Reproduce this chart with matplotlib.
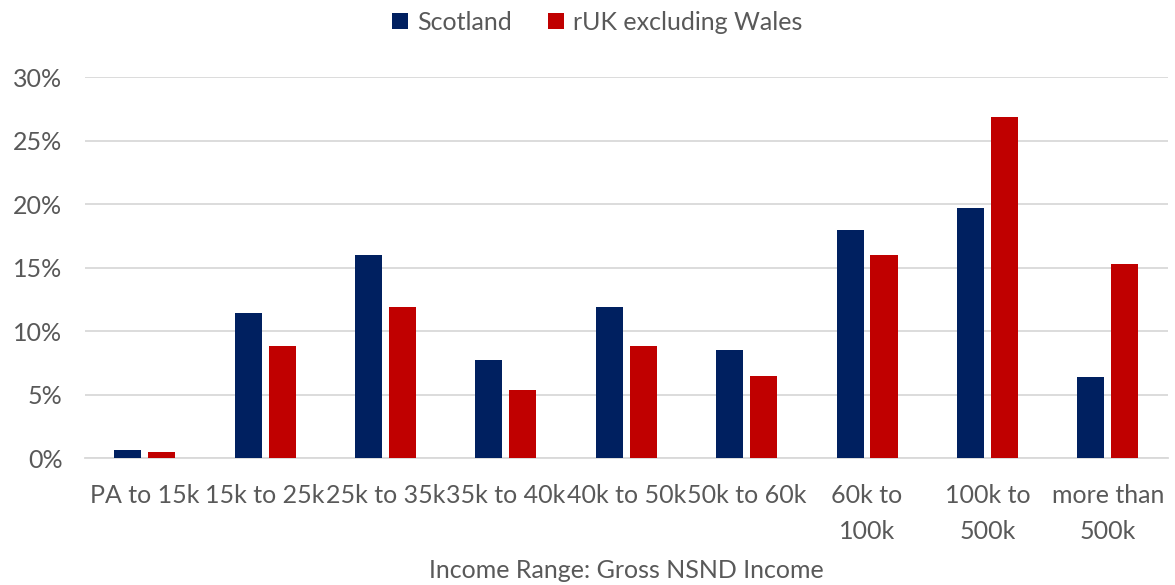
import numpy as np
import matplotlib
matplotlib.use("Agg")
import matplotlib.pyplot as plt
from matplotlib.ticker import PercentFormatter

categories = ["PA to 15k", "15k to 25k", "25k to 35k", "35k to 40k", "40k to 50k",
              "50k to 60k", "60k to\n100k", "100k to\n500k", "more than\n500k"]
scotland = [0.6, 11.4, 16.0, 7.7, 11.9, 8.55, 18.0, 19.7, 6.4]
ruk_ex_wales = [0.5, 8.8, 11.9, 5.4, 8.85, 6.5, 16.0, 26.9, 15.25]
yticks = [0, 5, 10, 15, 20, 25, 30]

NAVY = "#002060"
RED = "#C00000"
TEXT = "#595959"
GRID = "#D9D9D9"
FS = 18

plt.rcParams["font.family"] = ["Lato", "DejaVu Sans"]

fig = plt.figure(figsize=(11.75, 5.85), dpi=100)
ax = fig.add_axes([0.072, 0.217, 0.922, 0.651])

x = np.arange(len(categories))
w = 0.225
off = 0.141
ax.bar(x - off, scotland, w, color=NAVY, label="Scotland", zorder=3)
ax.bar(x + off, ruk_ex_wales, w, color=RED, label="rUK excluding Wales", zorder=3)

ax.set_xlim(-0.5, len(categories) - 0.5)
ax.set_ylim(0, 30)
ax.set_yticks(yticks)
ax.yaxis.set_major_formatter(PercentFormatter(decimals=0))
ax.set_xticks(x)
ax.set_xticklabels(categories)
ax.grid(axis="y", color=GRID, lw=1.3, zorder=0)
for s in ["top", "right", "left"]:
    ax.spines[s].set_visible(False)
ax.spines["bottom"].set_color(GRID)
ax.spines["bottom"].set_linewidth(1.3)
ax.tick_params(axis="both", length=0, labelsize=FS, colors=TEXT)
ax.tick_params(axis="x", pad=19)
ax.tick_params(axis="y", pad=16)
for lbl in ax.get_xticklabels():
    lbl.set_verticalalignment("top")
    lbl.set_linespacing(1.65)

ax.set_xlabel("Income Range: Gross NSND Income", fontsize=FS, color=TEXT, labelpad=12)

ax.legend(loc="upper center", bbox_to_anchor=(0.508, 1.02), bbox_transform=fig.transFigure,
          ncol=2, frameon=False, fontsize=FS, labelcolor=TEXT, handlelength=0.65,
          handleheight=0.65, handletextpad=0.35, columnspacing=1.45)

fig.savefig("out.png", dpi=100)
